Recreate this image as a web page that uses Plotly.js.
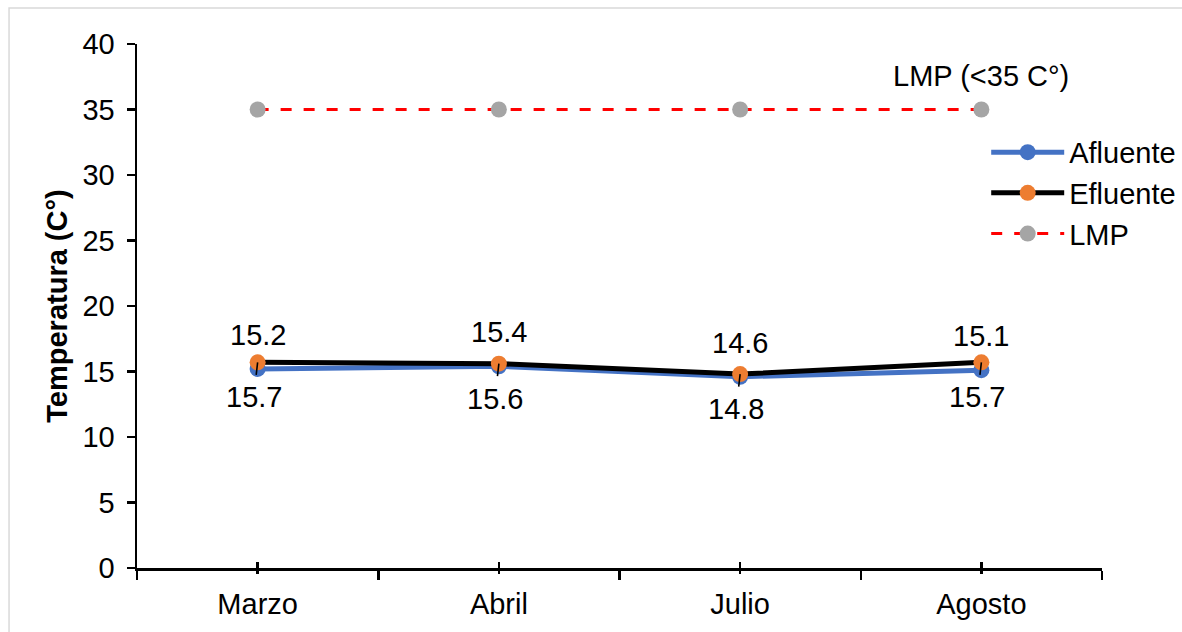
<!DOCTYPE html>
<html>
<head>
<meta charset="utf-8">
<script src="https://cdn.plot.ly/plotly-3.0.1.min.js"></script>
<style>
html,body{margin:0;padding:0;background:#fff;}
#chart{width:1182px;height:632px;}
</style>
</head>
<body>
<div id="chart"></div>
<script>
var months = ["Marzo", "Abril", "Julio", "Agosto"];
var afluente = [15.2, 15.4, 14.6, 15.1];
var efluente = [15.7, 15.6, 14.8, 15.7];
var lmp = [35, 35, 35, 35];
var lmpLabel = "LMP (&lt;35 C°)";
var yTitle = "Temperatura (C°)";

var FONT = "Liberation Sans, Arial, sans-serif";
var FS = 29;

var traces = [
  {
    name: "Afluente", x: months, y: afluente, type: "scatter", mode: "lines+markers",
    line: {color: "#4472C4", width: 5}, marker: {color: "#4472C4", size: 16},
    xaxis: "x", yaxis: "y", cliponaxis: false
  },
  {
    name: "Efluente", x: months, y: efluente, type: "scatter", mode: "lines+markers",
    line: {color: "#000000", width: 5}, marker: {color: "#ED7D31", size: 16},
    xaxis: "x2", yaxis: "y", cliponaxis: false
  },
  {
    name: "LMP", x: months, y: lmp, type: "scatter", mode: "lines+markers",
    line: {color: "#FF0000", width: 3, dash: "11px,12px"}, marker: {color: "#A5A5A5", size: 16},
    xaxis: "x3", yaxis: "y", cliponaxis: false
  }
];

var annotations = [];
months.forEach(function (m, i) {
  annotations.push({
    x: m, y: afluente[i], xref: "x", yref: "y", text: afluente[i].toFixed(1),
    showarrow: false, yshift: 34, font: {family: FONT, size: FS, color: "#000"}
  });
  annotations.push({
    x: m, y: efluente[i], xref: "x", yref: "y", text: efluente[i].toFixed(1),
    showarrow: true, arrowhead: 0, arrowwidth: 1.6, arrowcolor: "#000",
    ax: -4, ay: 35, standoff: 0, startstandoff: 5,
    font: {family: FONT, size: FS, color: "#000"}
  });
});
annotations.push({
  x: months[months.length - 1], y: lmp[lmp.length - 1], xref: "x", yref: "y",
  text: lmpLabel, showarrow: false, yshift: 34, font: {family: FONT, size: FS, color: "#000"}
});

var catAxisCommon = {
  type: "category", categoryorder: "array", categoryarray: months,
  range: [-0.5, months.length - 0.5], fixedrange: true
};

var layout = {
  width: 1182, height: 632,
  margin: {l: 137, r: 80, t: 44, b: 64, autoexpand: false},
  paper_bgcolor: "#ffffff", plot_bgcolor: "#ffffff",
  font: {family: FONT, size: FS, color: "#000"},
  showlegend: true,
  legend: {
    x: 0.880, y: 0.842, xanchor: "left", yanchor: "top",
    font: {family: FONT, size: FS, color: "#000"},
    itemwidth: 73, tracegroupgap: 0, bgcolor: "rgba(0,0,0,0)"
  },
  xaxis: Object.assign({}, catAxisCommon, {
    showline: true, linecolor: "#000", linewidth: 2.5,
    ticks: "outside", tickson: "boundaries", ticklen: 9, tickwidth: 2.5, tickcolor: "#000",
    showgrid: false, zeroline: false, ticklabelstandoff: 9,
    tickfont: {family: FONT, size: FS, color: "#000"}
  }),
  xaxis2: Object.assign({}, catAxisCommon, {
    overlaying: "x", anchor: "y", side: "bottom",
    showline: false, ticks: "inside", ticklen: 6, tickwidth: 2.5, tickcolor: "#000",
    showticklabels: false, showgrid: false, zeroline: false
  }),
  xaxis3: Object.assign({}, catAxisCommon, {
    overlaying: "x", anchor: "y", side: "bottom",
    showline: false, ticks: "outside", ticklen: 5, tickwidth: 2.5, tickcolor: "#000",
    showticklabels: false, showgrid: false, zeroline: false
  }),
  yaxis: {
    range: [0, 40], dtick: 5, tick0: 0, fixedrange: true,
    showline: true, linecolor: "#000", linewidth: 2.5,
    ticks: "outside", ticklen: 8, tickwidth: 2.5, tickcolor: "#000",
    showgrid: false, zeroline: false, ticklabelstandoff: 6,
    tickfont: {family: FONT, size: FS, color: "#000"},
    title: {text: "<b>" + yTitle + "</b>", font: {family: FONT, size: FS, color: "#000"}, standoff: 7}
  },
  annotations: annotations,
  shapes: [{
    type: "rect", xref: "paper", yref: "paper",
    x0: -0.1326, x1: 1.2, y0: -0.2, y1: 1.0687,
    line: {color: "#D9D9D9", width: 1.5}, fillcolor: "rgba(0,0,0,0)", layer: "below"
  }]
};

Plotly.newPlot("chart", traces, layout, {displayModeBar: false, staticPlot: true});
</script>
</body>
</html>
